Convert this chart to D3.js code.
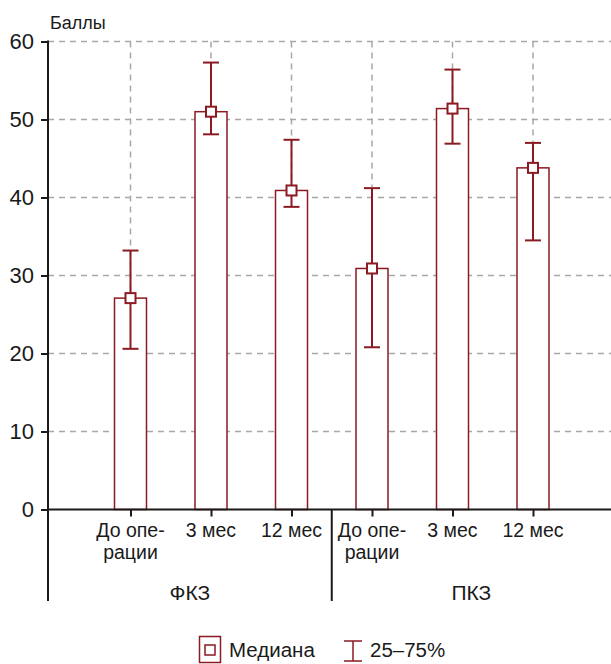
<!DOCTYPE html>
<html><head><meta charset="utf-8">
<script src="https://cdn.jsdelivr.net/npm/d3@7/dist/d3.min.js"></script>
<style>
html,body{margin:0;padding:0;background:#fff;}
svg{display:block;font-family:"Liberation Sans",Arial,sans-serif;}
</style></head>
<body>
<svg id="chart" width="611" height="664"></svg>
<script>
// ---- data ----
const groups = ["ФКЗ", "ПКЗ"];
const periods = [["До опе-", "рации"], ["3 мес"], ["12 мес"]];
const categories = ["ФКЗ-0", "ФКЗ-3", "ФКЗ-12", "ПКЗ-0", "ПКЗ-3", "ПКЗ-12"];
const median = [27.1, 51.0, 40.9, 30.9, 51.4, 43.8];
const q25 = [20.6, 48.1, 38.8, 20.8, 46.9, 34.5];
const q75 = [33.2, 57.3, 47.4, 41.2, 56.4, 47.0];
const yTicks = [0, 10, 20, 30, 40, 50, 60];
const yLabel = "Баллы";
const legendLabels = ["Медиана", "25–75%"];

// ---- layout ----
const red = "#8b1a22";
const ink = "#1a1a1a";
const svg = d3.select("#chart");
const axisX = 48, plotRight = 611;
const y = d3.scaleLinear().domain([0, 60]).range([509.5, 41.5]);
const x = d3.scalePoint().domain(categories).range([130.5, 533]);
const barW = 32;

// horizontal grid
svg.append("g").selectAll("line").data(yTicks.filter(d => d > 0)).join("line")
  .attr("x1", axisX).attr("x2", plotRight)
  .attr("y1", d => y(d)).attr("y2", d => y(d))
  .attr("stroke", "#a8a8a8").attr("stroke-width", 1.5).attr("stroke-dasharray", "6,5");
// vertical grid
svg.append("g").selectAll("line").data(categories).join("line")
  .attr("x1", d => x(d)).attr("x2", d => x(d))
  .attr("y1", y(60)).attr("y2", y(0))
  .attr("stroke", "#a8a8a8").attr("stroke-width", 1.5).attr("stroke-dasharray", "6,5");

// bars
svg.append("g").selectAll("rect").data(categories).join("rect")
  .attr("x", d => x(d) - barW / 2)
  .attr("y", (d, i) => y(median[i]))
  .attr("width", barW)
  .attr("height", (d, i) => y(0) - y(median[i]))
  .attr("fill", "#fff").attr("stroke", red).attr("stroke-width", 1.5);

// error bars
const eb = svg.append("g").attr("stroke", red).attr("stroke-width", 2);
categories.forEach((c, i) => {
  const cx = x(c);
  eb.append("line").attr("x1", cx).attr("x2", cx).attr("y1", y(q25[i])).attr("y2", y(q75[i]));
  eb.append("line").attr("x1", cx - 8).attr("x2", cx + 8).attr("y1", y(q25[i])).attr("y2", y(q25[i]));
  eb.append("line").attr("x1", cx - 8).attr("x2", cx + 8).attr("y1", y(q75[i])).attr("y2", y(q75[i]));
});
// median markers
svg.append("g").selectAll("rect").data(categories).join("rect")
  .attr("x", d => x(d) - 5)
  .attr("y", (d, i) => y(median[i]) - 5)
  .attr("width", 10).attr("height", 10)
  .attr("fill", "#fff").attr("stroke", red).attr("stroke-width", 2);

// y axis
const yAxis = d3.axisLeft(y).tickValues(yTicks).tickSize(7).tickPadding(7);
const gy = svg.append("g").attr("transform", `translate(${axisX},0)`).call(yAxis);
gy.select(".domain").remove();
gy.selectAll(".tick line").attr("stroke", ink).attr("stroke-width", 2);
gy.selectAll(".tick text").attr("font-size", 22).attr("fill", ink)
  .attr("font-family", "Liberation Sans, Arial, sans-serif");
svg.append("line").attr("x1", axisX).attr("x2", axisX).attr("y1", y(60) - 1).attr("y2", 601)
  .attr("stroke", ink).attr("stroke-width", 2);

// x axis
const xAxis = d3.axisBottom(x).tickSize(7).tickFormat("");
const gx = svg.append("g").attr("transform", `translate(0,${y(0)})`).call(xAxis);
gx.select(".domain").remove();
gx.selectAll(".tick line").attr("stroke", ink).attr("stroke-width", 2);
svg.append("line").attr("x1", axisX).attr("x2", plotRight).attr("y1", y(0)).attr("y2", y(0))
  .attr("stroke", ink).attr("stroke-width", 2);

// category labels
categories.forEach((c, i) => {
  const lines = periods[i % 3];
  const t = svg.append("text").attr("x", x(c)).attr("y", 537)
    .attr("text-anchor", "middle").attr("font-size", 19.5).attr("fill", ink);
  lines.forEach((l, k) => t.append("tspan").attr("x", x(c)).attr("dy", k === 0 ? 0 : 22).text(l));
});
// group separator
const sepX = (x(categories[2]) + x(categories[3])) / 2;
svg.append("line").attr("x1", sepX).attr("x2", sepX).attr("y1", y(0)).attr("y2", 601)
  .attr("stroke", ink).attr("stroke-width", 2);
// group labels
groups.forEach((g, gi) => {
  svg.append("text").attr("x", gi === 0 ? (axisX + sepX) / 2 : (sepX + plotRight) / 2).attr("y", 600)
    .attr("text-anchor", "middle").attr("font-size", 21).attr("fill", ink).text(g);
});

// y label
svg.append("text").attr("x", 50).attr("y", 29).attr("font-size", 18).attr("fill", ink).text(yLabel);

// legend
const lg = svg.append("g");
lg.append("rect").attr("x", 199.5).attr("y", 636.5).attr("width", 21).attr("height", 26)
  .attr("fill", "#fff").attr("stroke", red).attr("stroke-width", 1.5);
lg.append("rect").attr("x", 205).attr("y", 645).attr("width", 10).attr("height", 10)
  .attr("fill", "#fff").attr("stroke", red).attr("stroke-width", 1.5);
lg.append("text").attr("x", 229).attr("y", 657).attr("font-size", 20.5).attr("fill", ink).text(legendLabels[0]);
const ex = 353;
lg.append("line").attr("x1", ex).attr("x2", ex).attr("y1", 641).attr("y2", 661).attr("stroke", red).attr("stroke-width", 1.5);
lg.append("line").attr("x1", ex - 9).attr("x2", ex + 9).attr("y1", 641).attr("y2", 641).attr("stroke", red).attr("stroke-width", 1.5);
lg.append("line").attr("x1", ex - 9).attr("x2", ex + 9).attr("y1", 661).attr("y2", 661).attr("stroke", red).attr("stroke-width", 1.5);
lg.append("text").attr("x", 370).attr("y", 657).attr("font-size", 20.5).attr("fill", ink).text(legendLabels[1]);
</script>
</body></html>
